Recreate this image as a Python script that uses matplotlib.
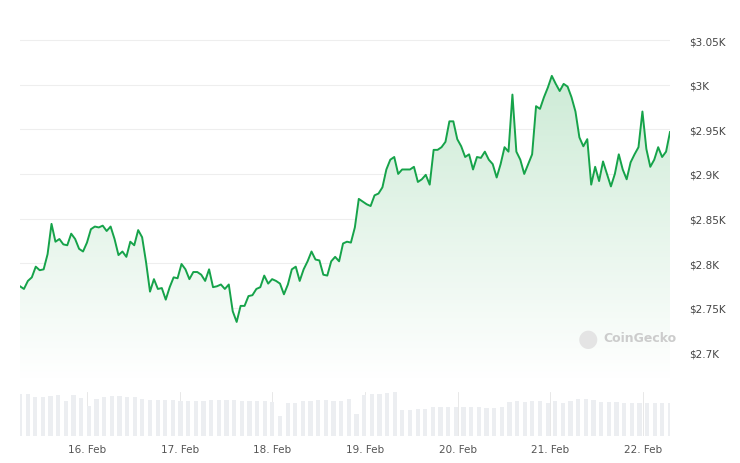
import matplotlib
matplotlib.use("Agg")
import matplotlib.pyplot as plt
import matplotlib.dates as mdates
from matplotlib.patches import Polygon
import numpy as np
import pandas as pd

# hourly-ish ETH price in K USD, 15 Feb ~07:00 to 22 Feb ~07:00
prices = [2.774, 2.771, 2.780, 2.784, 2.796, 2.792, 2.793, 2.810, 2.844, 2.824, 2.827, 2.821,
          2.820, 2.833, 2.827, 2.816, 2.813, 2.823, 2.838, 2.841, 2.840, 2.842, 2.836, 2.841,
          2.827, 2.809, 2.813, 2.807, 2.824, 2.820, 2.837, 2.829, 2.801, 2.768, 2.782, 2.771,
          2.772, 2.759, 2.773, 2.784, 2.783, 2.799, 2.793, 2.782, 2.790, 2.790, 2.787, 2.780,
          2.793, 2.773, 2.774, 2.776, 2.771, 2.776, 2.746, 2.734, 2.752, 2.752, 2.763, 2.764,
          2.771, 2.773, 2.786, 2.777, 2.782, 2.780, 2.777, 2.765, 2.776, 2.793, 2.796, 2.780,
          2.793, 2.802, 2.813, 2.804, 2.803, 2.787, 2.786, 2.802, 2.807, 2.802, 2.822, 2.824,
          2.823, 2.840, 2.872, 2.869, 2.866, 2.864, 2.876, 2.878, 2.885, 2.905, 2.916, 2.919,
          2.900, 2.905, 2.905, 2.905, 2.908, 2.891, 2.894, 2.899, 2.888, 2.927, 2.927, 2.930,
          2.936, 2.959, 2.959, 2.939, 2.931, 2.919, 2.922, 2.905, 2.919, 2.918, 2.925, 2.916,
          2.911, 2.896, 2.911, 2.930, 2.925, 2.989, 2.925, 2.916, 2.900, 2.911, 2.922, 2.976,
          2.973, 2.986, 2.997, 3.010, 3.001, 2.993, 3.001, 2.998, 2.986, 2.970, 2.941, 2.931,
          2.939, 2.888, 2.908, 2.892, 2.914, 2.900, 2.886, 2.900, 2.922, 2.905, 2.894, 2.913,
          2.922, 2.930, 2.970, 2.928, 2.908, 2.916, 2.930, 2.919, 2.925, 2.947]

# volume (relative units), one bar per ~2 hours
volumes = [42, 42, 39, 39, 40, 41, 35, 41, 38, 30, 37, 39, 40, 40, 39, 39, 37, 36, 36, 36,
           36, 35, 35, 35, 35, 36, 36, 36, 36, 35, 35, 35, 35, 34, 20, 33, 33, 35, 35, 36,
           36, 35, 35, 37, 22, 41, 42, 42, 43, 44, 26, 26, 27, 27, 29, 29, 29, 29, 29, 29,
           29, 28, 28, 29, 34, 35, 34, 35, 35, 33, 35, 33, 35, 37, 37, 36, 34, 34, 34, 33,
           33, 33, 33, 33, 33, 33]

y_ticks = [2.70, 2.75, 2.80, 2.85, 2.90, 2.95, 3.00, 3.05]
y_labels = ["$2.7K", "$2.75K", "$2.8K", "$2.85K", "$2.9K", "$2.95K", "$3K", "$3.05K"]
x_labels = ["16. Feb", "17. Feb", "18. Feb", "19. Feb", "20. Feb", "21. Feb", "22. Feb"]

start = pd.Timestamp("2025-02-15 06:40")
end = pd.Timestamp("2025-02-22 07:00")
t_price = pd.date_range(start, end, periods=len(prices))
t_vol = pd.date_range(start, end, periods=len(volumes))
x_ticks = pd.date_range("2025-02-16", periods=7, freq="D")

green = "#16a34a"
W, H = 740, 464
fig = plt.figure(figsize=(7.4, 4.64), dpi=100)
ax = fig.add_axes([20 / W, 1 - 380 / H, 650 / W, 370 / H])
axv = fig.add_axes([20 / W, 1 - 437 / H, 650 / W, 44 / H], sharex=ax)

ymin, ymax = 2.670, 3.085
ax.set_ylim(ymin, ymax)
ax.set_xlim(start, end)
for yt in y_ticks:
    ax.axhline(yt, color="#eeeeee", lw=0.8, zorder=0)

xn = mdates.date2num(t_price)
ax.plot(xn, prices, color=green, lw=1.4, zorder=3)

# gradient fill under the line
grad = np.linspace(0, 1, 256).reshape(-1, 1)
img = ax.imshow(grad, extent=[xn[0], xn[-1], ymin, 3.01], origin="lower",
                aspect="auto", cmap=matplotlib.colors.LinearSegmentedColormap.from_list(
                    "g", ["#ffffff", "#cdebd6"]), zorder=1)
poly = Polygon(np.column_stack([np.r_[xn[0], xn, xn[-1]], np.r_[ymin, prices, ymin]]),
               closed=True, transform=ax.transData, facecolor="none", edgecolor="none")
ax.add_patch(poly)
img.set_clip_path(poly)

ax.yaxis.tick_right()
ax.set_yticks(y_ticks)
ax.set_yticklabels(y_labels, fontsize=7.5, color="#444444")
ax.tick_params(axis="y", length=0, pad=14)
ax.tick_params(axis="x", length=0, labelbottom=False)
for s in ax.spines.values():
    s.set_visible(False)

# watermark
fig.text(588 / W, 1 - 339 / H, "\u25cf", fontsize=17, color="#e4e4e4",
         va="center", ha="center")
fig.text(603 / W, 1 - 339 / H, "CoinGecko", fontsize=9, color="#cccccc",
         va="center", ha="left", fontweight="semibold")

dt = (mdates.date2num(end) - mdates.date2num(start)) / (len(volumes) - 1)
axv.bar(mdates.date2num(t_vol), volumes, width=dt * 0.55, color="#eceef1", zorder=2)
axv.set_ylim(0, 44)
for xt in x_ticks:
    axv.axvline(mdates.date2num(xt), color="#e4e4e4", lw=0.6, zorder=1)
axv.set_yticks([])
axv.set_xticks(x_ticks)
axv.set_xticklabels(x_labels, fontsize=7.5, color="#555555")
axv.tick_params(axis="x", length=0, pad=6)
for s in axv.spines.values():
    s.set_visible(False)

fig.savefig("out.png", dpi=100)
